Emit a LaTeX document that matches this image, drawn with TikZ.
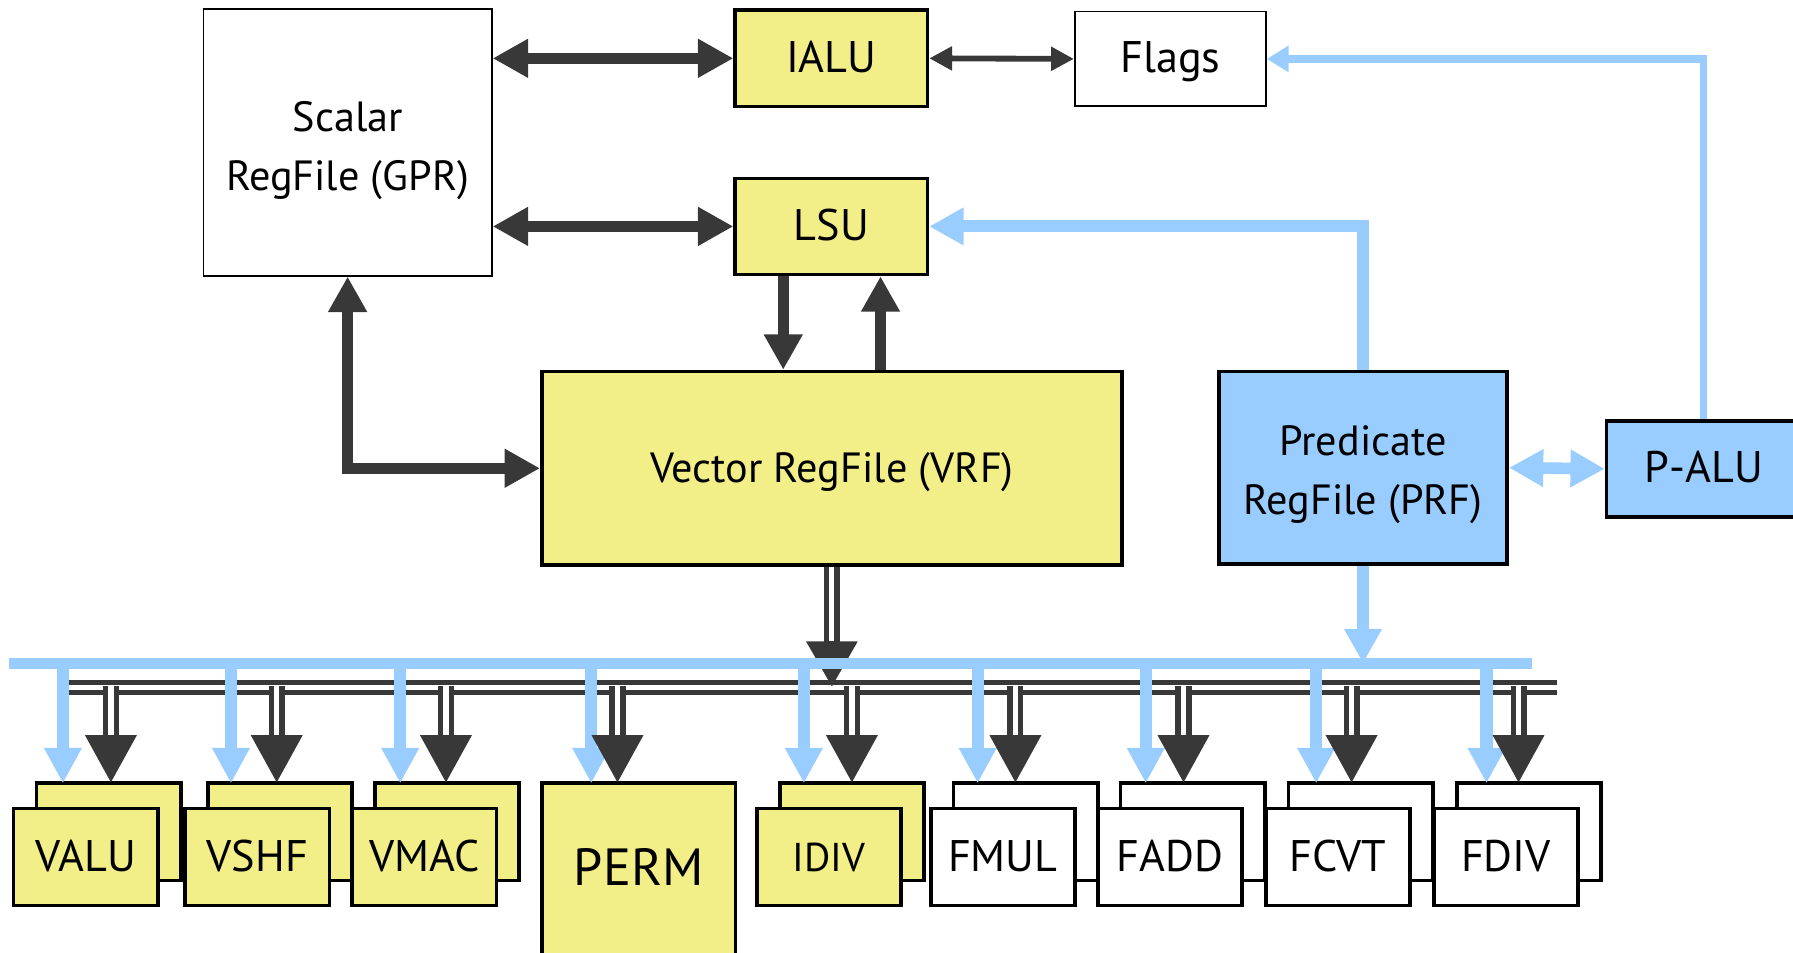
\documentclass[tikz,border=0pt]{standalone}
\usepackage{fontspec}
\setmainfont{PT Sans}
\usetikzlibrary{arrows.meta,calc,positioning}

\definecolor{unitYellow}{RGB}{242,238,136}
\definecolor{predBlue}{RGB}{153,204,255}
\definecolor{wireGray}{RGB}{56,56,56}

\tikzset{
  blk/.style={draw=black,line width=0.9pt,inner sep=0pt,align=center,font=\fontsize{11}{13}\selectfont},
  one/.style={text height=1.4ex,text depth=0pt},
  thinblk/.style={blk,line width=0.45pt,fill=white},
  regfile/.style={font=\fontsize{10.5}{14.8}\selectfont,align=center},
  unit/.style={blk,one,minimum width=1.26cm,minimum height=0.85cm},
  fat/.style={draw=wireGray,line width=2.8pt,>={Triangle[length=0.31cm,width=0.32cm]}},
  slim/.style={draw=wireGray,line width=1.45pt,>={Triangle[length=0.2cm,width=0.2cm]}},
  pwire/.style={draw=predBlue,line width=2.95pt,>={Triangle[length=0.30cm,width=0.31cm]}},
  pthin/.style={draw=predBlue,line width=1.82pt,>={Triangle[length=0.19cm,width=0.22cm]}},
  plink/.style={draw=predBlue,line width=2.9pt,>={Triangle[length=0.30cm,width=0.31cm]}},
  pdrop/.style={draw=predBlue,line width=3.05pt,>={Triangle[length=0.31cm,width=0.31cm]}},
  pbus/.style={draw=predBlue,line width=2.85pt},
  gbus/.style={draw=wireGray,line width=1.25pt,double=white,double distance=1.25pt},
  vdrop/.style={draw=wireGray,line width=4pt,>={Triangle[length=0.42cm,width=0.42cm]},
    postaction={draw=white,line width=1.35pt,-,shorten >=0.42cm}},
  vmain/.style={draw=wireGray,line width=3.9pt,>={Triangle[length=0.40cm,width=0.42cm]},
    postaction={draw=white,line width=1.25pt,-,shorten >=0.40cm}}
}

\begin{document}
\begin{tikzpicture}[x=0.01cm,y=-0.01cm]
\useasboundingbox (0,0) rectangle (1568,833);

% register files, scalar units
\node[thinblk,minimum width=2.52cm,minimum height=2.33cm,
  label={[regfile,yshift=-0.07cm]center:Scalar\\RegFile (GPR)}] (gpr) at (304,124.5) {};
\node[blk,one,fill=unitYellow,minimum width=1.68cm,minimum height=0.84cm] (ialu) at (727,51) {IALU};
\node[thinblk,one,minimum width=1.67cm,minimum height=0.83cm] (flags) at (1023.5,51.5) {Flags};
\node[blk,one,fill=unitYellow,minimum width=1.68cm,minimum height=0.84cm] (lsu) at (727,198) {LSU};
\node[blk,one,fill=unitYellow,regfile,minimum width=5.07cm,minimum height=1.69cm] (vrf) at (727.5,409.5) {Vector RegFile (VRF)};
\node[blk,fill=predBlue,minimum width=2.52cm,minimum height=1.68cm,
  label={[regfile,yshift=-0.06cm]center:Predicate\\RegFile (PRF)}] (prf) at (1192,409) {};
\node[blk,one,fill=predBlue,minimum width=1.70cm,minimum height=0.84cm] (palu) at (1490,410) {P-ALU};

% vector units (back copy, then front copy)
\foreach \u/\fx/\bx/\gx/\col/\fs in {VALU/12/55/97/unitYellow/11,VSHF/162/202/242/unitYellow/11,
    VMAC/308/350/390/unitYellow/11,IDIV/662/703/745/unitYellow/10,FMUL/814/855/888/white/11,
    FADD/960/1002/1035/white/11,FCVT/1107/1151/1182/white/11,FDIV/1254/1300/1328/white/11}{
  \node[unit,fill=\col] (\u-back) at (\fx+83,727.5) {};
  \node[unit,fill=\col,font=\fontsize{\fs}{13}\selectfont] (\u) at (\fx+63,749.5) {\u};
  \coordinate (\u-bin) at (\bx,685);
  \coordinate (\u-gin) at (\gx,685);
}
\node[blk,one,fill=unitYellow,font=\fontsize{13}{15}\selectfont,minimum width=1.69cm,minimum height=1.55cm] (PERM) at (558.5,762.5) {PERM};
\coordinate (PERM-bin) at (517,685);
\coordinate (PERM-gin) at (540,685);

% buses
\coordinate (bluebusW) at (8,580);
\coordinate (bluebusE) at (1340,580);
\coordinate (graybusW) at (60,601);
\coordinate (graybusE) at (1362,601);
\coordinate (gdrop) at (0,600);

% scalar side connections
\draw[fat,<->] (gpr.east |- ialu.west) -- (ialu.west);
\draw[fat,<->] (gpr.east |- lsu.west) -- (lsu.west);
\draw[slim,<->] (ialu.east) -- (flags.west);
\draw[fat,->] ([xshift=-0.42cm]lsu.south) -- ([xshift=-0.42cm]lsu.south |- vrf.north);
\draw[fat,->] ([xshift=0.43cm]lsu.south |- vrf.north) -- ([xshift=0.43cm]lsu.south);
\draw[fat,<->] (gpr.south) |- (vrf.west);

% predicate connections
\draw[pwire,->] (prf.north) |- (lsu.east);
\draw[pthin,->] (palu.north) |- (flags.east);
\draw[plink,<->] (prf.east) -- (palu.west);

% buses and drops
\draw[gbus] (graybusW) -- (graybusE);
\draw[vmain,->] (vrf.south) -- (vrf.south |- graybusW);
\draw[pbus] (bluebusW) -- (bluebusE);
\draw[pwire,->] (prf.south) -- (prf.south |- bluebusW);
\foreach \u in {VALU,VSHF,VMAC,PERM,IDIV,FMUL,FADD,FCVT,FDIV}
  \draw[pdrop,->] (bluebusW -| \u-bin) -- (\u-bin);
\foreach \u in {VALU,VSHF,VMAC,PERM,IDIV,FMUL,FADD,FCVT,FDIV}
  \draw[vdrop,->] (gdrop -| \u-gin) -- (\u-gin);
\end{tikzpicture}
\end{document}
